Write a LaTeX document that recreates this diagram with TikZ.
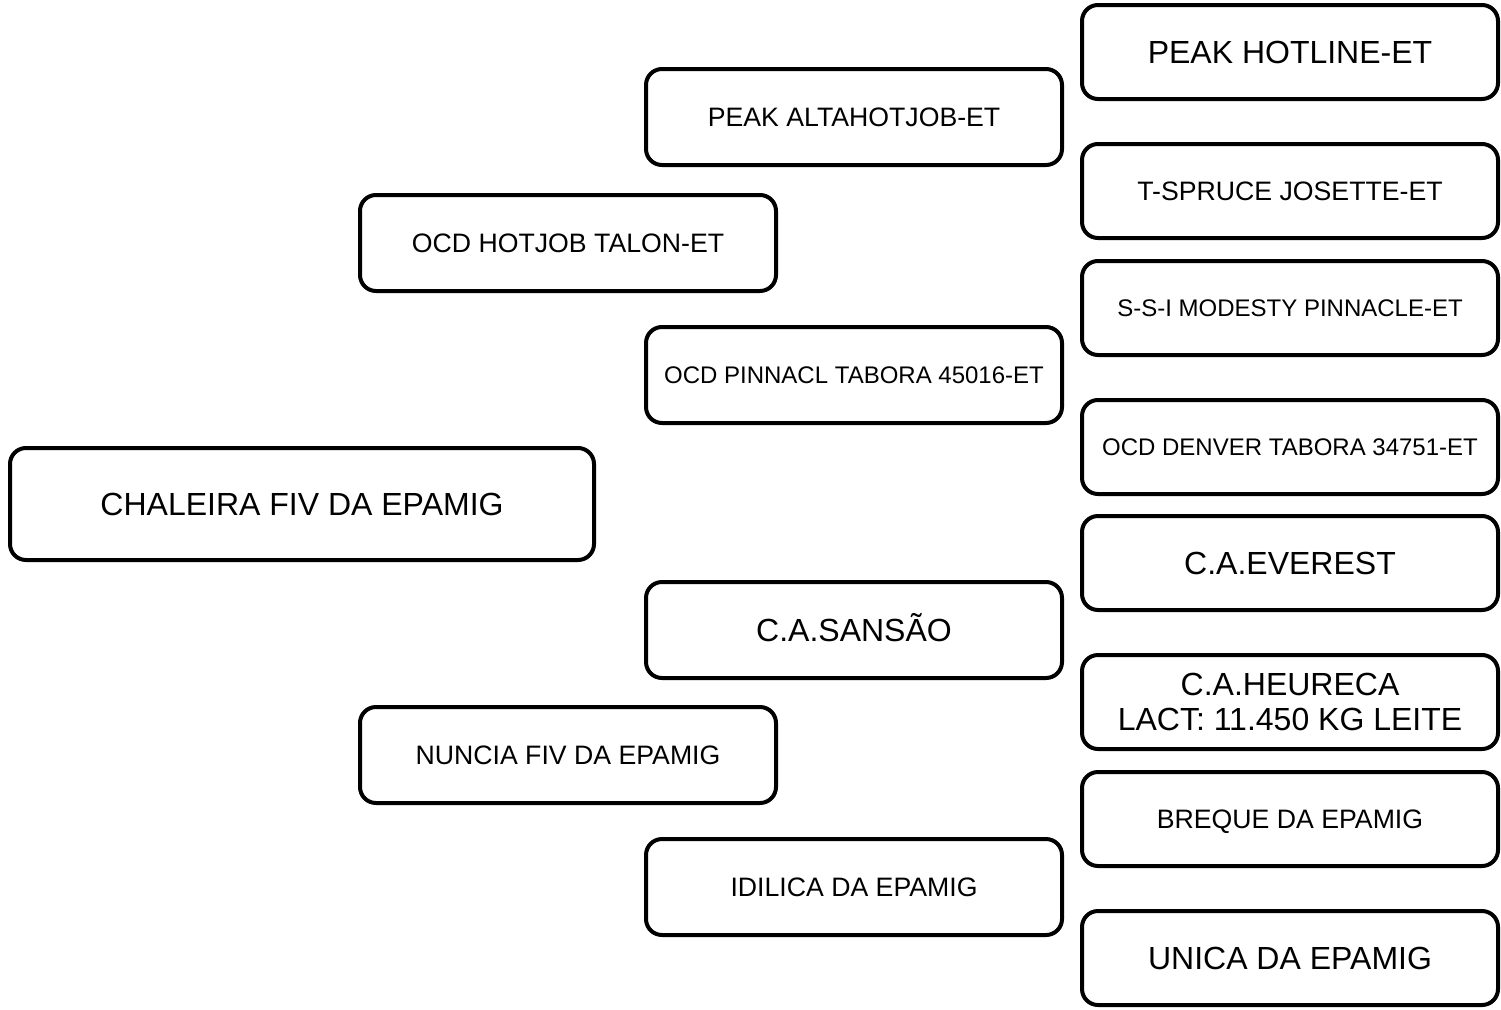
\documentclass[tikz,border=0pt]{standalone}
\usepackage{fontspec}
\setmainfont{Liberation Sans}
\begin{document}
\begin{tikzpicture}[x=1pt,y=-1pt,
  boxbase/.style={draw=black, line width=4pt, rounded corners=16pt, fill=white,
    minimum width=416pt, minimum height=96pt, inner sep=0pt},
  box/.style={boxbase, text depth=0pt},
  big/.style={font=\fontsize{32}{35}\selectfont, text height=22.9pt},
  mid/.style={font=\fontsize{26.67}{30}\selectfont, text height=19.1pt},
  sml/.style={font=\fontsize{24}{27}\selectfont, text height=17.2pt},
  two/.style={font=\fontsize{32}{35}\selectfont, align=center}]
\useasboundingbox (0,0) rectangle (1501,1009);
% generation 1
\node[box, big, minimum width=584pt, minimum height=112pt] (g1) at (302,504) {CHALEIRA FIV DA EPAMIG};
% generation 2
\node[box, mid] (g2a) at (568,243) {OCD HOTJOB TALON-ET};
\node[box, mid] (g2b) at (568,755) {NUNCIA FIV DA EPAMIG};
% generation 3
\node[box, mid] (g3a) at (854,117) {PEAK ALTAHOTJOB-ET};
\node[box, sml] (g3b) at (854,375) {OCD PINNACL TABORA 45016-ET};
\node[box, big] (g3c) at (854,630) {C.A.SANSÃO};
\node[box, mid] (g3d) at (854,887) {IDILICA DA EPAMIG};
% generation 4
\node[box, big, minimum height=94pt] (g4a) at (1290,52) {PEAK HOTLINE-ET};
\node[box, mid, minimum height=94pt] (g4b) at (1290,191) {T-SPRUCE JOSETTE-ET};
\node[box, sml, minimum height=94pt] (g4c) at (1290,308) {S-S-I MODESTY PINNACLE-ET};
\node[box, sml, minimum height=94pt] (g4d) at (1290,447) {OCD DENVER TABORA 34751-ET};
\node[box, big, minimum height=94pt] (g4e) at (1290,563) {C.A.EVEREST};
\node[boxbase, two, minimum height=94pt] (g4f) at (1290,702) {C.A.HEURECA\\LACT: 11.450 KG LEITE};
\node[box, mid, minimum height=94pt] (g4g) at (1290,819) {BREQUE DA EPAMIG};
\node[box, big, minimum height=94pt] (g4h) at (1290,958) {UNICA DA EPAMIG};
\end{tikzpicture}
\end{document}
